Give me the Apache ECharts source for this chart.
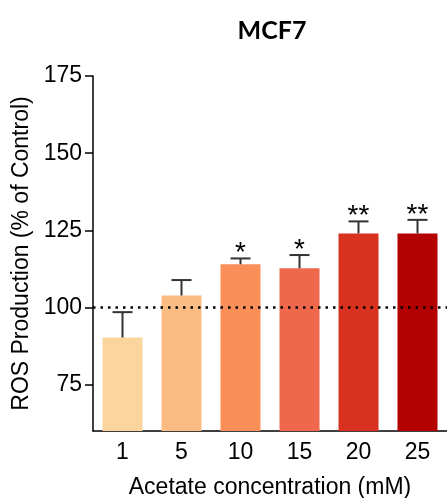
<!DOCTYPE html>
<html>
<head>
<meta charset="utf-8">
<script src="https://cdn.jsdelivr.net/npm/echarts@6/dist/echarts.min.js"></script>
<style>html,body{margin:0;padding:0;background:#fff}#c{width:447px;height:498px}</style>
</head>
<body>
<div id="c"></div>
<script>
const categories = ['1', '5', '10', '15', '20', '25'];
const means = [90.3, 103.9, 114.0, 112.7, 124.0, 124.0];
const errTops = [98.5, 108.9, 115.9, 117.0, 127.9, 128.4];
const stars = ['', '', '*', '*', '**', '**'];
const barColors = ['#FCD49E', '#FBBC84', '#FB8F5A', '#EF684C', '#D93120', '#B30000'];
const yTicks = [75, 100, 125, 150, 175];

const FONT = '"Liberation Sans", Arial, sans-serif';
const chart = echarts.init(document.getElementById('c'), null, {renderer: 'canvas'});

const errData = categories.map((c, i) => [i, means[i], errTops[i], stars[i]]);

chart.setOption({
  animation: false,
  title: {
    text: 'MCF7', left: 267, top: 13, textAlign: 'center',
    textStyle: {fontFamily: 'Lato, "Open Sans", sans-serif', fontWeight: 'bold', fontSize: 25, color: '#000'}
  },
  grid: {left: 93, right: 0, top: 76, bottom: 67, containLabel: false, outerBoundsMode: 'none'},
  xAxis: {
    type: 'category', data: categories, boundaryGap: true,
    name: 'Acetate concentration (mM)', nameLocation: 'middle', nameGap: 45,
    nameTextStyle: {fontFamily: FONT, fontSize: 23, color: '#000'},
    axisLine: {lineStyle: {color: '#000', width: 1.5}},
    axisTick: {alignWithLabel: true, length: 7, lineStyle: {color: '#000', width: 1.5}},
    axisLabel: {fontFamily: FONT, fontSize: 23, color: '#000', margin: 10}
  },
  yAxis: {
    type: 'value', min: 60, max: 175,
    name: 'ROS Production (% of Control)', nameLocation: 'middle', nameGap: 50,
    nameTextStyle: {fontFamily: FONT, fontSize: 23, color: '#000'},
    splitLine: {show: false},
    axisLine: {show: true, lineStyle: {color: '#000', width: 1.5}},
    axisTick: {show: true, length: 8, customValues: yTicks, lineStyle: {color: '#000', width: 1.5}},
    axisLabel: {fontFamily: FONT, fontSize: 23, color: '#000', margin: 11, customValues: yTicks}
  },
  series: [
    {
      type: 'line', data: [], z: 1,
      markLine: {
        silent: true, symbol: 'none', label: {show: false},
        lineStyle: {color: '#000', type: [2.5, 5], width: 2.5},
        data: [{yAxis: 100}]
      }
    },
    {
      type: 'bar', z: 2, barWidth: 40,
      data: means.map((v, i) => ({value: v, itemStyle: {color: barColors[i]}}))
    },
    {
      type: 'custom', z: 3,
      data: errData,
      renderItem: function (params, api) {
        const x = api.value(0);
        const pMean = api.coord([x, api.value(1)]);
        const pTop = api.coord([x, api.value(2)]);
        const half = 10;
        const style = {stroke: '#333', lineWidth: 2};
        const children = [
          {type: 'line', shape: {x1: pMean[0], y1: pMean[1], x2: pTop[0], y2: pTop[1]}, style: style},
          {type: 'line', shape: {x1: pTop[0] - half, y1: pTop[1], x2: pTop[0] + half, y2: pTop[1]}, style: style}
        ];
        const s = errData[params.dataIndex][3];
        if (s) {
          children.push({
            type: 'text',
            style: {text: s, x: pTop[0], y: pTop[1] + 9, align: 'center', verticalAlign: 'bottom',
              font: '28px "Liberation Sans", Arial, sans-serif', fill: '#000'}
          });
        }
        return {type: 'group', children: children};
      }
    }
  ]
});
</script>
</body>
</html>
